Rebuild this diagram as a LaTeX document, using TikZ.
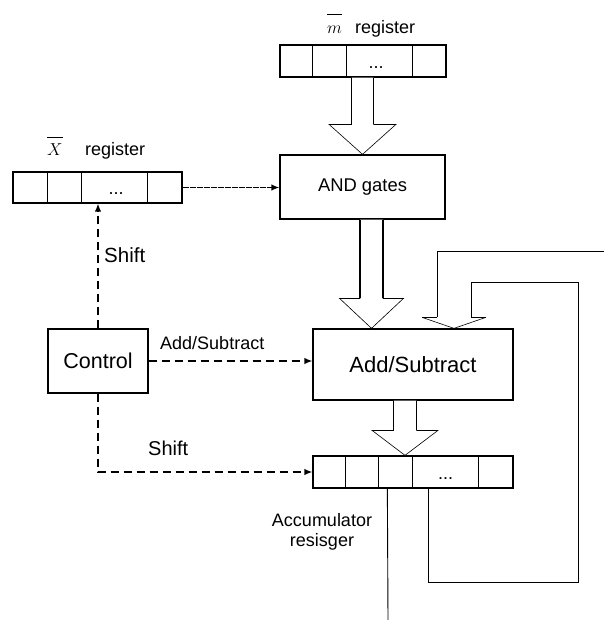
\documentclass[tikz,border=0pt]{standalone}
\usepackage{fontspec}
\setmainfont{Liberation Sans}
\usetikzlibrary{arrows.meta,calc}

% Hollow block arrow between two node anchors:
% #1 source anchor, #2 target anchor, #3 axis x, #4 shaft half width,
% #5 head half width, #6 head length
\newcommand\hollowarrow[6]{%
  \filldraw[fill=white, headside] let \p1=(#1), \p2=(#2) in
    (#3-#4,\y1) -- (#3-#4,\y2+#6pt) -- (#3-#5,\y2+#6pt) -- (#3,\y2)
    -- (#3+#5,\y2+#6pt) -- (#3+#4,\y2+#6pt) -- (#3+#4,\y1);
  \draw[shaftside] let \p1=(#1), \p2=(#2) in
    (#3-#4,\y1) -- (#3-#4,\y2+#6pt) (#3+#4,\y1) -- (#3+#4,\y2+#6pt)
    (#3-#5,\y2+#6pt) -- (#3-#4,\y2+#6pt) (#3+#4,\y2+#6pt) -- (#3+#5,\y2+#6pt);
}

\begin{document}
\begin{tikzpicture}[x=1pt,y=-1pt,
  box/.style={draw, line width=1.3pt, rectangle, inner sep=0pt},
  lbl/.style={inner sep=0pt, font=\fontsize{18}{20}\selectfont},
  ctrlline/.style={line width=1.3pt, dash pattern=on 8pt off 5pt,
    -{Latex[length=8pt,width=6.5pt]}},
  dataline/.style={line width=1.3pt, dash pattern=on 6pt off 1pt,
    -{Latex[length=8pt,width=6.5pt]}},
  wire/.style={line width=0.9pt},
  cell/.style={line width=1pt},
  shaftside/.style={line width=1.5pt},
  headside/.style={line width=0.6pt},
]
\useasboundingbox (0,0) rectangle (604,620);

% ---- blocks and registers ----
\node[box, minimum width=166pt, minimum height=32pt] (mreg) at (363,61) {};
\node[box, minimum width=165pt, minimum height=64pt,
      font=\fontsize{18.4}{22}\selectfont] (andg) at (362.5,187) {AND gates};
\node[box, minimum width=169pt, minimum height=31pt] (xreg) at (97.5,187.5) {};
\node[box, minimum width=100pt, minimum height=64pt,
      font=\fontsize{21.5}{24}\selectfont] (ctrl) at (98,361) {Control};
\node[box, minimum width=200pt, minimum height=71pt,
      font=\fontsize{22}{25}\selectfont] (addsub) at (413,364.5) {Add/Subtract};
\node[box, minimum width=200pt, minimum height=32pt] (acc) at (413,472) {};

% register cells
\foreach \dx in {33,67,133}
  \draw[cell] ([xshift=\dx pt]mreg.north west) -- ([xshift=\dx pt]mreg.south west);
\foreach \dx in {35,69,135}
  \draw[cell] ([xshift=\dx pt]xreg.north west) -- ([xshift=\dx pt]xreg.south west);
\foreach \dx in {33,66,100,166}
  \draw[cell] ([xshift=\dx pt]acc.north west) -- ([xshift=\dx pt]acc.south west);

\node[lbl, anchor=base] (mdots) at (376,68.5) {...};
\node[lbl, anchor=base] (xdots) at (116,194.5) {...};
\node[lbl, anchor=base] (accdots) at (445.5,479.5) {...};

% ---- register names ----
\node[lbl, anchor=base west] (mname) at (327,34) {$\overline{\rule{0pt}{18pt}m}$};
\node[lbl, anchor=base west] (mregname) at (355,34) {register};
\node[lbl, anchor=base west] (xname) at (47,156) {$\overline{\rule{0pt}{17pt}X}$};
\node[lbl, anchor=base west] (xregname) at (85,156) {register};
\node[lbl, align=center, font=\fontsize{18}{19.5}\selectfont]
  (acclabel) at (322,532) {Accumulator\\resisger};

% ---- control lines ----
\draw[ctrlline] (ctrl.north) -- (ctrl.north |- xreg.south);
\draw[ctrlline] (ctrl.east) -- (ctrl.east -| addsub.west);
\draw[ctrlline] (ctrl.south) |- (acc.west);
\draw[dataline] (xreg.east) -- (xreg.east -| andg.west);

\node[lbl, anchor=west, font=\fontsize{20.5}{23}\selectfont] (shiftx) at (104,255) {Shift};
\node[lbl, anchor=west] (addlbl) at (160,343.5) {Add/Subtract};
\node[lbl, anchor=west, font=\fontsize{20}{23}\selectfont] (shiftacc) at (148,448.5) {Shift};

% ---- block arrows ----
\hollowarrow{mreg.south}{andg.north}{362.5}{11}{33.5}{30}
\hollowarrow{andg.south}{addsub.north}{371.5}{11.5}{32}{30}
\hollowarrow{addsub.south}{acc.north}{405}{11.5}{33}{25}

% ---- feedback from the accumulator ----
\coordinate (fbtip) at ([xshift=41pt]addsub.north);
\coordinate (outerend) at (604,251);
\coordinate (innercorner) at (578,282);
\coordinate (innerbottom) at (578,582);
\coordinate (accout) at (388,620);

\draw[headside] ([shift={(-32pt,11pt)}]fbtip) -- (fbtip) -- ([shift={(32pt,11pt)}]fbtip);
\draw[shaftside] ([shift={(-32pt,11pt)}]fbtip) -- ([shift={(-17pt,11pt)}]fbtip)
                 ([shift={(17pt,11pt)}]fbtip) -- ([shift={(32pt,11pt)}]fbtip);
\draw[wire] ([shift={(-17pt,11pt)}]fbtip) |- (outerend);
\draw[wire] ([shift={(17pt,11pt)}]fbtip) |- (innercorner) -- (innerbottom)
            -| ([xshift=116pt]acc.south west);
\draw[wire] ([xshift=75pt]acc.south west) -- (accout);
\end{tikzpicture}
\end{document}
